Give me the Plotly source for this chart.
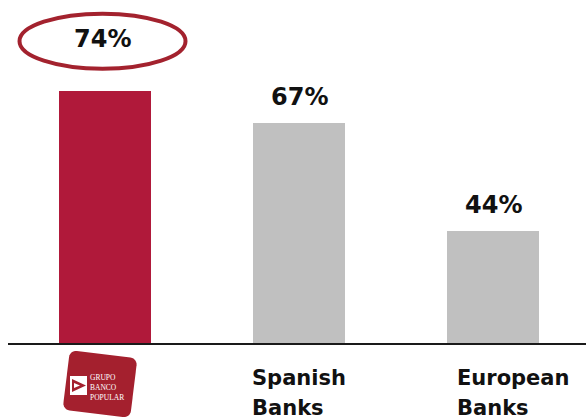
import math
import plotly.graph_objects as go

# Share of clients / peers comparison
categories = ["Grupo Banco Popular", "Spanish Banks", "European Banks"]
values = [74, 67, 44]
bar_colors = ["#B0193A", "#C0C0C0", "#C0C0C0"]
value_labels = ["74%", "67%", "44%"]
peer_labels = {"Spanish Banks": ("Spanish", "Banks"), "European Banks": ("European", "Banks")}
logo_lines = ["GRUPO", "BANCO", "POPULAR"]

W, H = 586, 417
ML, MR, MT, MB = 8, 0, 0, 74
PW, PH = W - ML - MR, H - MT - MB


def px(x):
    return (x - ML) / PW


def py(y):
    return (H - MB - y) / PH


fig = go.Figure(
    go.Bar(
        x=categories,
        y=values,
        marker=dict(color=bar_colors, line=dict(width=0)),
        width=0.47,
        hoverinfo="skip",
    )
)

font_bold = dict(family="DejaVu Sans", size=24, color="#111111")
annotations = []
for cat, v, lab in zip(categories, values, value_labels):
    annotations.append(
        dict(
            x=cat, y=v, xref="x", yref="y", text=f"<b>{lab}</b>", showarrow=False,
            yanchor="bottom", xanchor="center",
            yshift=36 if cat == categories[0] else 10,
            xshift=-3 if cat == categories[0] else 0,
            font=font_bold,
        )
    )

# peer category labels, two lines each
label_font = dict(family="DejaVu Sans", size=21, color="#111111")
shifts = {"Spanish Banks": -49, "European Banks": -38}
for cat, (l1, l2) in peer_labels.items():
    for i, t in enumerate((l1, l2)):
        annotations.append(
            dict(
                x=cat, y=0, xref="x", yref="paper", text=f"<b>{t}</b>", showarrow=False,
                xanchor="left", yanchor="top", xshift=shifts[cat],
                yshift=-21 - 30 * i, font=label_font,
            )
        )

# Banco Popular logo wordmark
annotations.append(
    dict(
        x=px(89), y=py(372), xref="paper", yref="paper",
        text="<br>".join(logo_lines), showarrow=False, xanchor="left", yanchor="top",
        align="left", font=dict(family="Liberation Serif", size=7.5, color="white"),
        borderpad=0,
    )
)

shapes = [
    # highlight ring around the leading value
    dict(
        type="circle", xref="x", yref="y", xsizemode="pixel", ysizemode="pixel",
        xanchor=categories[0], yanchor=values[0],
        x0=-85.5, x1=80.5, y0=22, y1=77,
        line=dict(color="#A3222E", width=4), fillcolor="rgba(0,0,0,0)",
    )
]

# logo: tilted rounded red square
cx, cy, hw, hh, r, ang = 100, 384, 34, 30, 7, math.radians(7)


def rot(x, y):
    return (cx + x * math.cos(ang) - y * math.sin(ang), cy + x * math.sin(ang) + y * math.cos(ang))


pts = []
corners = [(hw - r, -hh + r, -90), (hw - r, hh - r, 0), (-hw + r, hh - r, 90), (-hw + r, -hh + r, 180)]
for (ccx, ccy, a0) in corners:
    for k in range(7):
        a = math.radians(a0 + 15 * k)
        pts.append(rot(ccx + r * math.cos(a), ccy + r * math.sin(a)))
path = "M " + " L ".join(f"{px(x):.5f},{py(y):.5f}" for x, y in pts) + " Z"
shapes.append(dict(type="path", xref="paper", yref="paper", path=path,
                   fillcolor="#A4202E", line=dict(width=0)))

# logo icon: white square with red arrow
shapes.append(dict(type="rect", xref="paper", yref="paper",
                   x0=px(70), x1=px(87), y0=py(395), y1=py(376),
                   fillcolor="white", line=dict(width=0)))
arrow = [(72, 379), (86, 385.5), (72, 392)]
shapes.append(dict(type="path", xref="paper", yref="paper",
                   path="M " + " L ".join(f"{px(x):.5f},{py(y):.5f}" for x, y in arrow) + " Z",
                   fillcolor="#A4202E", line=dict(width=0)))
inner = [(74, 383), (80, 385.5), (74, 388)]
shapes.append(dict(type="path", xref="paper", yref="paper",
                   path="M " + " L ".join(f"{px(x):.5f},{py(y):.5f}" for x, y in inner) + " Z",
                   fillcolor="white", line=dict(width=0)))

fig.update_layout(
    width=W, height=H,
    margin=dict(l=ML, r=MR, t=MT, b=MB, pad=0),
    paper_bgcolor="white", plot_bgcolor="white",
    showlegend=False,
    bargap=0,
    xaxis=dict(
        type="category", range=[-0.5, 2.479], showticklabels=False, ticks="",
        showline=True, linecolor="#1a1a1a", linewidth=2, showgrid=False, zeroline=False,
        fixedrange=True,
    ),
    yaxis=dict(range=[20.0, 93.4], visible=False, fixedrange=True),
    annotations=annotations,
    shapes=shapes,
)

fig.write_html("out.html", config={"displayModeBar": False})
